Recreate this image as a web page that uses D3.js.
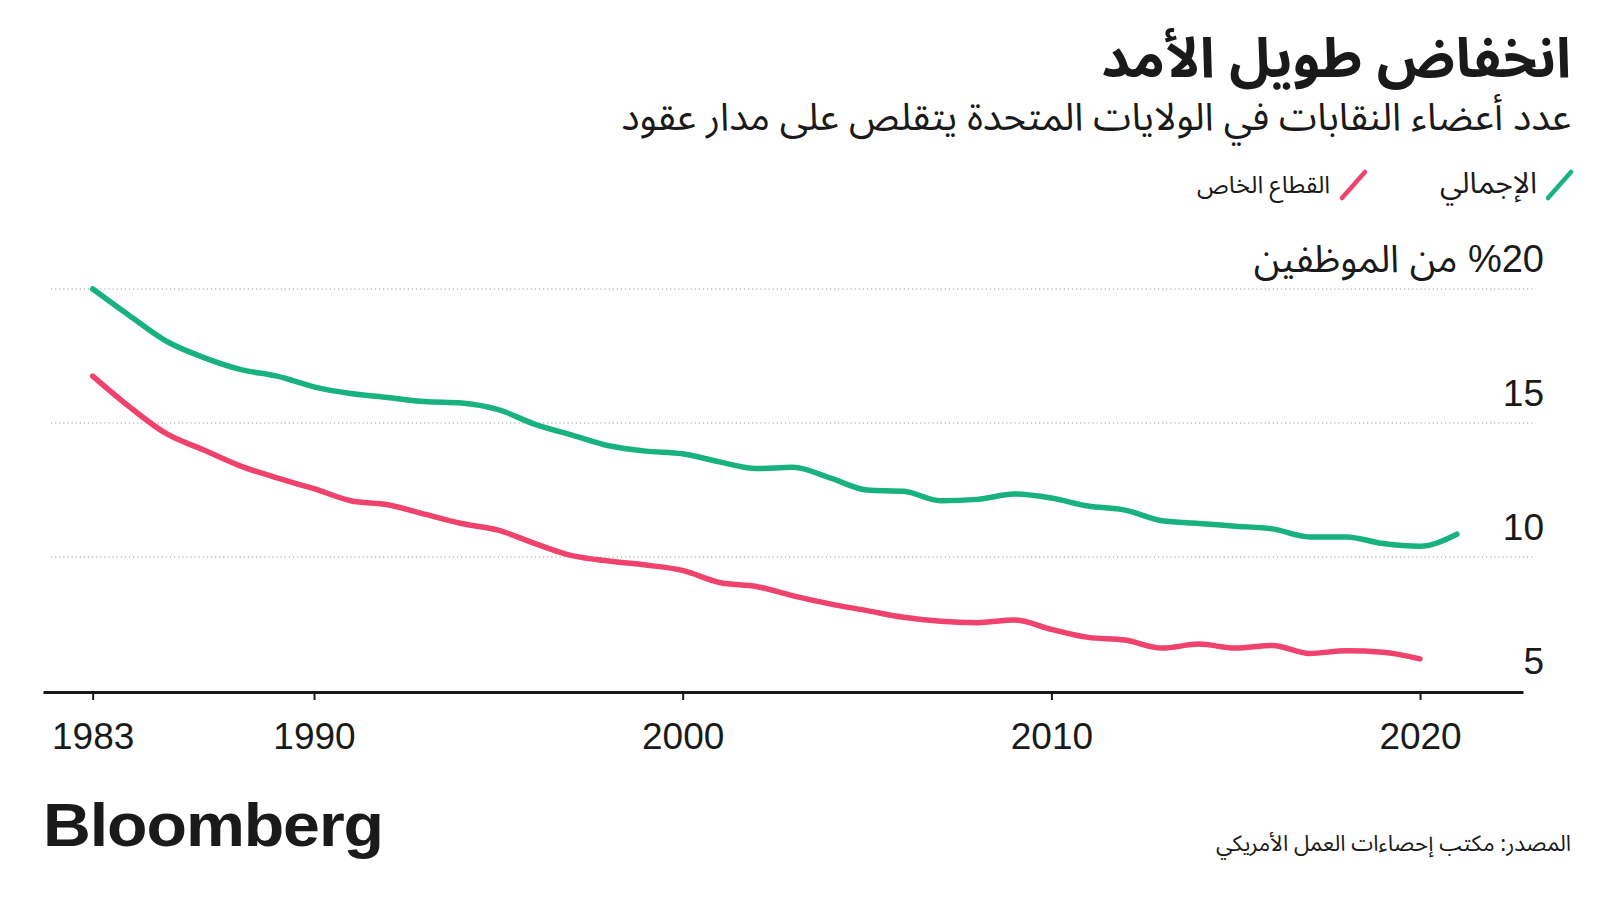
<!DOCTYPE html>
<html lang="ar">
<head>
<meta charset="utf-8">
<script src="https://cdn.jsdelivr.net/npm/d3@7"></script>
<style>
  html, body { margin: 0; padding: 0; background: #ffffff; }
  svg { display: block; }
  .ar { font-family: "Noto Sans Arabic", "DejaVu Sans", sans-serif; }
  .lat { font-family: "Liberation Sans", Arial, sans-serif; }
</style>
</head>
<body>
<svg id="chart" width="1600" height="900"></svg>
<script>
// ---------------- data ----------------
const years = [1983,1984,1985,1986,1987,1988,1989,1990,1991,1992,1993,1994,1995,1996,1997,1998,1999,2000,
               2001,2002,2003,2004,2005,2006,2007,2008,2009,2010,2011,2012,2013,2014,2015,2016,2017,2018,2019,2020];
// union membership rate, all workers (%)
const totalRate = [20.0,19.0,18.05,17.45,17.0,16.75,16.35,16.1,15.95,15.8,15.75,15.5,14.95,14.55,14.15,13.95,13.85,13.55,
                   13.3,13.35,12.95,12.5,12.45,12.1,12.15,12.35,12.2,11.9,11.75,11.35,11.25,11.15,11.05,10.75,10.75,10.5,10.4,10.85];
// union membership rate, private sector (%) — ends 2019
const privateRate = [16.75,15.6,14.6,14.0,13.4,12.95,12.55,12.1,11.95,11.6,11.25,11.0,10.5,10.05,9.85,9.7,9.5,9.05,
                     8.9,8.55,8.25,8.0,7.75,7.6,7.55,7.65,7.3,7.0,6.9,6.6,6.75,6.6,6.7,6.4,6.5,6.45,6.2];
const xTickYears = [1990, 2000, 2010, 2020];
const yTicks = [5, 10, 15, 20];
const gridTicks = [10, 15, 20];

const titleText = "انخفاض طويل الأمد";
const subtitleText = "عدد أعضاء النقابات في الولايات المتحدة يتقلص على مدار عقود";
const legendLabels = ["الإجمالي", "القطاع الخاص"];
const yTitleText = "من الموظفين";
const sourceText = "المصدر: مكتب إحصاءات العمل الأمريكي";

// ---------------- styling ----------------
const GREEN = "#18b27c";
const PINK = "#ef426d";
const INK = "#1a1a1a";

const svg = d3.select("#chart");

// data points are placed at year end
const toDate = y => new Date(y, 11, 31);
const totalData = years.map((y, i) => ({ date: toDate(y), v: totalRate[i] }));
const privateData = years.slice(0, privateRate.length).map((y, i) => ({ date: toDate(y), v: privateRate[i] }));

const x = d3.scaleTime()
  .domain([new Date(1982, 7, 26), new Date(2022, 9, 17)])
  .range([43, 1523]);
const y = d3.scaleLinear().domain([5, 20]).range([691, 289]);

// helper: fit a text element to a target width
function fit(sel, target) {
  const w = sel.node().getComputedTextLength();
  const fs = parseFloat(sel.attr("font-size"));
  if (w > 0) sel.attr("font-size", (fs * target / w).toFixed(2));
  return sel;
}

// ---------------- title & subtitle ----------------
fit(svg.append("text").attr("class", "ar")
  .attr("x", 1571).attr("y", 77)
  .attr("text-anchor", "end")
  .attr("font-size", 52).attr("font-weight", 700).attr("fill", INK)
  .text(titleText), 470);

fit(svg.append("text").attr("class", "ar")
  .attr("x", 1571).attr("y", 130)
  .attr("text-anchor", "end")
  .attr("font-size", 33).attr("fill", INK)
  .text(subtitleText), 950);

// ---------------- legend ----------------
const legendItems = [
  { label: legendLabels[0], color: GREEN, slashX: 1548, textX: 1537, w: 97 },
  { label: legendLabels[1], color: PINK, slashX: 1342, textX: 1330, w: 133 }
];
legendItems.forEach(d => {
  svg.append("line")
    .attr("x1", d.slashX).attr("y1", 198)
    .attr("x2", d.slashX + 23).attr("y2", 172)
    .attr("stroke", d.color).attr("stroke-width", 4.5)
    .attr("stroke-linecap", "round");
  fit(svg.append("text").attr("class", "ar")
    .attr("x", d.textX).attr("y", 193)
    .attr("text-anchor", "end")
    .attr("font-size", 24).attr("fill", INK)
    .text(d.label), d.w);
});

// ---------------- gridlines ----------------
svg.append("g").selectAll("line")
  .data(gridTicks).join("line")
  .attr("x1", 51).attr("x2", 1533)
  .attr("y1", d => y(d)).attr("y2", d => y(d))
  .attr("stroke", "#9a9a9a").attr("stroke-width", 1)
  .attr("stroke-dasharray", "1.2,2.9");

// ---------------- y axis (labels on the right, above gridlines) ----------------
const yAxis = d3.axisRight(y)
  .tickValues(yTicks)
  .tickSize(0)
  .tickFormat(d => d === 20 ? "\u202B%20 " + yTitleText + "\u202C" : String(d));
const gy = svg.append("g").attr("transform", "translate(1544,0)").call(yAxis);
gy.select(".domain").remove();
gy.selectAll("text")
  .attr("x", 0).attr("dy", 0)
  .attr("transform", "translate(0,-18)")
  .attr("text-anchor", "end")
  .attr("font-family", d => d === 20 ? "\"Liberation Sans\", \"Noto Sans Arabic\", \"DejaVu Sans\", sans-serif" : "\"Liberation Sans\", Arial, sans-serif")
  .attr("font-size", d => d === 20 ? 38 : 37)
  .attr("fill", INK);

// ---------------- x axis ----------------
const xTickDates = [toDate(years[0])].concat(xTickYears.map(yy => new Date(yy, 0, 1)));
const xAxis = d3.axisBottom(x)
  .tickValues(xTickDates)
  .tickSize(8)
  .tickSizeOuter(0)
  .tickFormat(d3.timeFormat("%Y"));
const gx = svg.append("g").attr("transform", "translate(0,692)").call(xAxis);
gx.select(".domain").attr("stroke", INK).attr("stroke-width", 3);
gx.selectAll(".tick line").attr("stroke", INK).attr("stroke-width", 2);
gx.selectAll(".tick text")
  .attr("y", 57).attr("dy", 0)
  .attr("font-family", "\"Liberation Sans\", Arial, sans-serif")
  .attr("font-size", 37)
  .attr("fill", INK);

// ---------------- lines ----------------
const line = d3.line()
  .x(d => x(d.date))
  .y(d => y(d.v))
  .curve(d3.curveMonotoneX);

svg.append("path").datum(privateData)
  .attr("d", line)
  .attr("fill", "none").attr("stroke", PINK)
  .attr("stroke-width", 5.5).attr("stroke-linecap", "round").attr("stroke-linejoin", "round");

svg.append("path").datum(totalData)
  .attr("d", line)
  .attr("fill", "none").attr("stroke", GREEN)
  .attr("stroke-width", 5.5).attr("stroke-linecap", "round").attr("stroke-linejoin", "round");

// ---------------- footer ----------------
svg.append("text").attr("class", "lat")
  .attr("x", 43).attr("y", 846)
  .attr("font-size", 61).attr("font-weight", 700)
  .attr("letter-spacing", -1)
  .attr("fill", INK)
  .attr("textLength", 340).attr("lengthAdjust", "spacingAndGlyphs")
  .text("Bloomberg");

fit(svg.append("text").attr("class", "ar")
  .attr("x", 1571).attr("y", 851)
  .attr("text-anchor", "end")
  .attr("font-size", 21).attr("fill", INK)
  .text(sourceText), 355);
</script>
</body>
</html>
